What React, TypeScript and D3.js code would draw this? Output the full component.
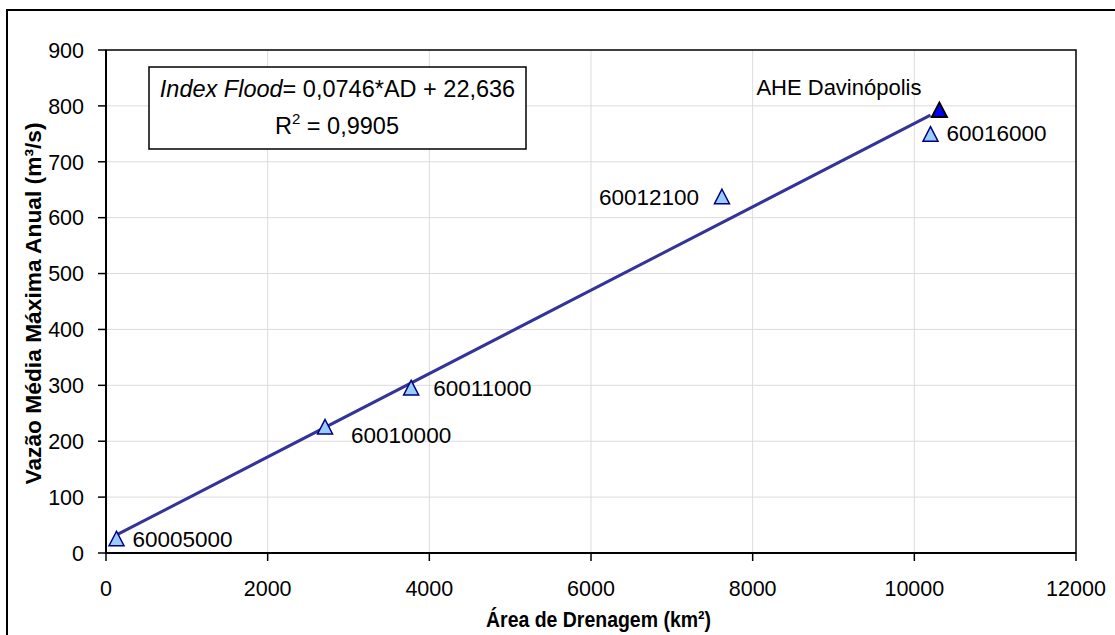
import React from 'react';
import * as d3 from 'd3';

// station data: drainage area (km²) vs mean annual max flow (m³/s)
const stationNames = ['60005000', '60010000', '60011000', '60012100', '60016000'];
const stationArea = [130, 2710, 3775, 7620, 10200];
const stationFlow = [25, 225, 295, 637, 749];

const damName = 'AHE Davinópolis';
const damArea = 10310;
const damFlow = 792;

const slope = 0.0746;
const intercept = 22.636;

const xTicks = [0, 2000, 4000, 6000, 8000, 10000, 12000];
const yTicks = [0, 100, 200, 300, 400, 500, 600, 700, 800, 900];

// label offsets (px) relative to each marker
const labelDx = [16, 26, 22, -123, 16];
const labelDy = [0, 8, 0, 0, -1];

const W = 1115;
const H = 635;
const margin = { top: 50, right: 39, bottom: 82, left: 106 };
const font = '"Liberation Sans", Arial, sans-serif';

function tri(cx: number, cy: number, s: number) {
  const h = s * 0.9;
  return `M${cx},${cy - h / 2 - 1}L${cx + s / 2},${cy + h / 2}L${cx - s / 2},${cy + h / 2}Z`;
}

export default function App() {
  const x = d3.scaleLinear().domain([0, 12000]).range([margin.left, W - margin.right]);
  const y = d3.scaleLinear().domain([0, 900]).range([H - margin.bottom, margin.top]);

  const x0 = d3.min(stationArea) as number;
  const x1 = d3.max(stationArea) as number;
  const line = d3
    .line<number>()
    .x((d) => x(d))
    .y((d) => y(slope * d + intercept));

  const left = margin.left;
  const right = W - margin.right;
  const top = margin.top;
  const bottom = H - margin.bottom;

  return (
    <svg
      width={W}
      height={H}
      style={{ position: 'absolute', left: 0, top: 0, background: '#fff' }}
      fontFamily={font}
    >
      <rect x={0} y={0} width={W} height={H} fill="#fff" />
      {/* chart frame (cropped on the right and bottom) */}
      <rect x={7} y={10} width={W + 20} height={H + 20} fill="none" stroke="#000" strokeWidth={2} />

      {/* grid */}
      {xTicks.slice(1, -1).map((t) => (
        <line key={'gx' + t} x1={x(t)} x2={x(t)} y1={top} y2={bottom} stroke="#dcdcdc" strokeWidth={1} />
      ))}
      {yTicks.slice(1, -1).map((t) => (
        <line key={'gy' + t} x1={left} x2={right} y1={y(t)} y2={y(t)} stroke="#dcdcdc" strokeWidth={1} />
      ))}

      {/* plot border */}
      <rect x={left} y={top} width={right - left} height={bottom - top} fill="none" stroke="#000" strokeWidth={1.5} />

      {/* axes */}
      <line x1={left} x2={left} y1={top} y2={bottom} stroke="#000" strokeWidth={2} />
      <line x1={left} x2={right} y1={bottom} y2={bottom} stroke="#000" strokeWidth={2} />
      {yTicks.map((t) => (
        <g key={'ty' + t}>
          <line x1={left - 8} x2={left} y1={y(t)} y2={y(t)} stroke="#000" strokeWidth={1.5} />
          <text x={84} y={y(t)} dy="0.36em" textAnchor="end" fontSize={21.5} fill="#000">
            {t}
          </text>
        </g>
      ))}
      {xTicks.map((t) => (
        <g key={'tx' + t}>
          <line x1={x(t)} x2={x(t)} y1={bottom} y2={bottom + 8} stroke="#000" strokeWidth={1.5} />
          <text x={x(t)} y={596} textAnchor="middle" fontSize={21.5} fill="#000">
            {t}
          </text>
        </g>
      ))}

      {/* axis titles */}
      <text
        x={486}
        y={627}
        fontSize={22}
        fontWeight="bold"
        fill="#000"
        textLength={225}
        lengthAdjust="spacingAndGlyphs"
      >
        Área de Drenagem (km²)
      </text>
      <text
        transform={`translate(41,${(top + bottom) / 2 + 2}) rotate(-90)`}
        textAnchor="middle"
        fontSize={22}
        fontWeight="bold"
        fill="#000"
        textLength={362}
        lengthAdjust="spacingAndGlyphs"
      >
        Vazão Média Máxima Anual (m³/s)
      </text>

      {/* trend line */}
      <path d={line([x0, x1]) as string} fill="none" stroke="#333399" strokeWidth={3} />

      {/* stations */}
      {stationArea.map((a, i) => (
        <g key={stationNames[i]}>
          <path d={tri(x(a), y(stationFlow[i]), 15)} fill="#99ccff" stroke="#000080" strokeWidth={1.5} />
          <text
            x={x(a) + labelDx[i]}
            y={y(stationFlow[i]) + labelDy[i]}
            dy="0.36em"
            fontSize={22.5}
            fill="#000"
          >
            {stationNames[i]}
          </text>
        </g>
      ))}

      {/* dam site */}
      <path d={tri(x(damArea), y(damFlow), 15)} fill="#0000ff" stroke="#000" strokeWidth={2} />
      <text x={x(damArea) - 183} y={y(damFlow) - 23} dy="0.36em" fontSize={22} fill="#000">
        {damName}
      </text>

      {/* equation box */}
      <rect x={149} y={67} width={377} height={82} fill="#fff" stroke="#000" strokeWidth={1.5} />
      <text x={337.5} y={97} textAnchor="middle" fontSize={23.5} fill="#000">
        <tspan fontStyle="italic">Index Flood</tspan>
        <tspan>= 0,0746*AD + 22,636</tspan>
      </text>
      <text x={337} y={134} textAnchor="middle" fontSize={23.5} fill="#000">
        <tspan>R</tspan>
        <tspan fontSize={15} dy={-10}>2</tspan>
        <tspan dy={10}> = 0,9905</tspan>
      </text>
    </svg>
  );
}
